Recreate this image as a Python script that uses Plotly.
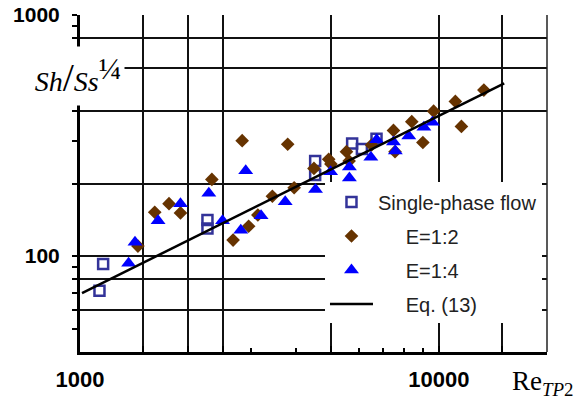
import plotly.graph_objects as go

# Single-phase flow data (Re_TP2, Sh/Ss^1/4)
re_single = [1133, 1160, 2265, 2265, 4520, 4520, 5730, 6100, 6700]
sh_single = [71.8, 92.6, 141, 130, 248, 217, 293, 278, 307]

# Two-phase flow, E = 1:2
re_e12 = [1450, 1615, 1770, 1905, 2330, 2830, 3790, 2670, 2950, 3130, 3435, 3950, 4485,
          4930, 5000, 5525, 5620, 6490, 7470, 7545, 8400, 9020, 9665, 11110, 11550, 13340]
sh_e12 = [110, 152, 165, 151, 208, 301, 291, 116.5, 133, 148, 177, 192, 231,
          252, 241, 271, 248, 289, 332, 271, 361, 296, 399, 438, 345, 488]

# Two-phase flow, E = 1:4
re_e14 = [1366, 1423, 1650, 1905, 2285, 2495, 2895, 2805, 3195, 3730, 4530, 4990, 5630,
          5630, 6460, 6705, 7470, 7560, 8240, 9080, 9590]
sh_e14 = [93.3, 114, 140, 165, 182, 140, 226, 128, 147, 168, 189, 224, 234,
          211, 257, 304, 297, 273, 315, 342, 359]

# Correlation, Eq. (13)
re_eq = [1013, 2000, 5000, 10000, 15200]
sh_eq = [70.2, 116, 230, 383, 520]

# Axis ticks and grid
x_grid = [1000, 1500, 2000, 2500, 5000, 10000, 15000]
x_text = ["1000", "", "", "", "", "10000", ""]
x_minor = [3000, 4000, 6000, 7000, 8000, 9000]
y_grid = [60, 80, 100, 200, 400, 600, 800, 1000]
y_text = ["", "", "100", "", "", "", "", "1000"]
y_minor = [50, 70, 90, 300, 500, 700, 900]

sans = "Liberation Sans, Arial, sans-serif"
serif = "Liberation Serif, Times New Roman, serif"
pad = "\u00a0" * 5

fig = go.Figure()
fig.add_trace(go.Scatter(
    x=re_single, y=sh_single, mode="markers", name="Single-phase flow",
    legendgroup="a",
    marker=dict(symbol="square-open", size=10, color="#333399",
                line=dict(width=2.5, color="#333399"))))
fig.add_trace(go.Scatter(
    x=re_e12, y=sh_e12, mode="markers",
    name=pad + "E=1:2", legendgroup="b",
    marker=dict(symbol="diamond", size=10.5, color="#663300")))
fig.add_trace(go.Scatter(
    x=re_e14, y=sh_e14, mode="markers",
    name=pad + "E=1:4", legendgroup="c",
    marker=dict(symbol="triangle-up", size=13, color="#0000ff")))
fig.add_trace(go.Scatter(
    x=re_eq, y=sh_eq, mode="lines",
    name=pad + "Eq. (13)", legendgroup="d",
    line=dict(color="black", width=2.5)))

fig.update_layout(
    width=574, height=401,
    margin=dict(l=80, r=27, t=15, b=49, autoexpand=False),
    paper_bgcolor="white", plot_bgcolor="white",
    showlegend=True,
    legend=dict(
        x=0.5246, xanchor="left", y=0.503, yanchor="top",
        bgcolor="white", borderwidth=0,
        font=dict(family=sans, size=20, color="#222"),
        itemwidth=43, tracegroupgap=5, traceorder="grouped",
    ),
    font=dict(family=sans, color="black"),
)

fig.update_xaxes(
    type="log", range=[3, 4.30103], automargin=False,
    tickmode="array", tickvals=x_grid, ticktext=x_text,
    tickfont=dict(family=sans, size=22, color="black", weight="bold"),
    ticks="inside", ticklen=6, tickwidth=2, tickcolor="black",
    showgrid=True, gridcolor="#111", gridwidth=1.5,
    showline=True, linecolor="black", linewidth=3,
    ticklabelstandoff=6,
    minor=dict(tickmode="array", tickvals=x_minor, ticks="inside",
               ticklen=4, tickwidth=2, tickcolor="black", showgrid=False),
    zeroline=False,
)
fig.update_yaxes(
    type="log", range=[1.60206, 3], automargin=False,
    tickmode="array", tickvals=y_grid, ticktext=y_text,
    tickfont=dict(family=sans, size=21, color="black", weight="bold"),
    ticks="outside", ticklen=5, tickwidth=2, tickcolor="black",
    showgrid=True, gridcolor="#111", gridwidth=1.5,
    showline=True, linecolor="black", linewidth=3,
    ticklabelstandoff=8,
    minor=dict(tickmode="array", tickvals=y_minor, ticks="outside",
               ticklen=5, tickwidth=2, tickcolor="black", showgrid=False),
    zeroline=False,
)

# Right-hand frame edge
fig.add_shape(type="line", xref="paper", yref="paper", x0=1, x1=1, y0=0, y1=1,
              line=dict(color="#222", width=1.5))

# Axis titles
fig.add_annotation(
    xref="paper", yref="paper", x=-0.004, y=0.819, xanchor="center", yanchor="middle",
    text="<i>Sh</i><span style='font-size:40px'>/</span><i>Ss</i>"
         "<sup><span style='font-size:30px'>\u00bc</span></sup>",
    showarrow=False, bgcolor="white", borderpad=0, width=92, height=58,
    font=dict(family=serif, size=28, color="black"))
fig.add_annotation(
    xref="paper", yref="paper", x=0.991, y=-0.092, xanchor="center", yanchor="middle",
    text="Re<sub><i>TP</i>2</sub>",
    showarrow=False,
    font=dict(family=serif, size=27, color="black"))

fig.write_html("out.html")
